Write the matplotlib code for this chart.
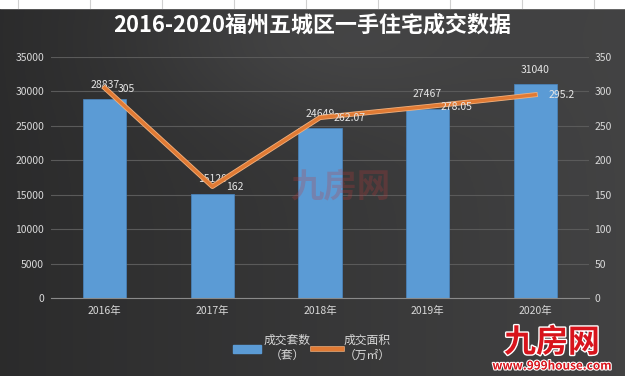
import matplotlib
matplotlib.use("Agg")
import matplotlib.pyplot as plt
import matplotlib.patheffects as pe
from matplotlib.lines import Line2D
from matplotlib.patches import Patch
import numpy as np

plt.rcParams['font.family'] = ['Noto Sans CJK SC', 'DejaVu Sans']

years = ['2016年', '2017年', '2018年', '2019年', '2020年']
units = [28837, 15120, 24649, 27467, 31040]
area = [305, 162, 262.07, 278.05, 295.2]
area_labels = ['305', '162', '262.07', '278.05', '295.2']
title = '2016-2020福州五城区一手住宅成交数据'

W, H = 625, 376
fig = plt.figure(figsize=(W / 100, H / 100), dpi=100)

# background gradient
bg = fig.add_axes([0, 0, 1, 1])
xg = np.linspace(0, 1, 300)
yg = np.linspace(0, 1, 200)
X, Y = np.meshgrid(xg, yg)
val = 0.17 + 0.09 * X + 0.05 * np.exp(-((X - 0.5) ** 2) / 0.08 - ((Y - 0.1) ** 2) / 0.05)
img = np.dstack([val, val, val * 1.01])
img = np.clip(img, 0, 1)
bg.imshow(img, extent=[0, W, H, 0], aspect='auto')
bg.set_xlim(0, W)
bg.set_ylim(H, 0)
bg.axis('off')
# white spreadsheet strip at top
bg.fill_between([0, W], 0, 8, color='white', zorder=2)
for xv in np.arange(18, W, 72):
    bg.plot([xv, xv], [0, 8], color='#d0d0d0', lw=0.8, zorder=3)

fig.text(0.5, 1 - 25 / H, title, color='white', fontsize=15.8, fontweight='bold',
         ha='center', va='center')

ax = fig.add_axes([51 / W, (H - 298) / H, (589 - 51) / W, (298 - 57) / H])
ax.patch.set_alpha(0)
x = np.arange(len(years))
bars = ax.bar(x, units, width=0.4, color='#5b9bd5', edgecolor='#4a86c0', linewidth=0.5, zorder=2)
ax.set_xlim(-0.5, len(years) - 0.5)
ax.set_ylim(0, 35000)
ax.set_yticks(np.arange(0, 35001, 5000))
ax.grid(axis='y', color='#5a5a5a', lw=0.8, zorder=0)
for s in ['top', 'right', 'left']:
    ax.spines[s].set_visible(False)
ax.spines['bottom'].set_color('#8a8a8a')
ax.set_xticks(x)
ax.set_xticklabels(years)
ax.tick_params(axis='both', colors='#d9d9d9', labelsize=7.5, length=0)
ax.tick_params(axis='x', pad=6)
ax.tick_params(axis='y', pad=5)

for xi, v in zip(x, units):
    ax.annotate(str(v), (xi, v), xytext=(0, 7), textcoords='offset points',
                ha='center', va='bottom', color='#e6e6e6', fontsize=7.5, zorder=5)

ax2 = ax.twinx()
ax2.set_ylim(0, 350)
ax2.set_yticks(np.arange(0, 351, 50))
for s in ['top', 'right', 'left', 'bottom']:
    ax2.spines[s].set_visible(False)
ax2.tick_params(axis='y', colors='#d9d9d9', labelsize=7.5, length=0, pad=4)
ax2.plot(x, area, color='#e07a34', lw=2.4, zorder=4,
         path_effects=[pe.Stroke(linewidth=3.6, foreground='#f2b07c'), pe.Normal()])
for xi, v, lab in zip(x, area, area_labels):
    ax2.annotate(lab, (xi, v), xytext=(9.5, -0.5), textcoords='offset points',
                 ha='left', va='center', color='#e6e6e6', fontsize=7.5, zorder=5)

# watermark in middle
fig.text(340 / W, 1 - 187 / H, '九房网', color='#c0393b', alpha=0.25, fontsize=24,
         ha='center', va='center', fontweight='bold')

# legend
handles = [Patch(facecolor='#5b9bd5', edgecolor='#5b9bd5'),
           Line2D([0], [0], color='#e07a34', lw=3,
                  path_effects=[pe.Stroke(linewidth=4, foreground='#f2b07c'), pe.Normal()])]
leg = fig.legend(handles, ['成交套数\n（套）', '成交面积\n（万㎡）'], ncol=2,
                 loc='center', bbox_to_anchor=(312 / W, 1 - 348 / H), frameon=False,
                 fontsize=8.5, labelcolor='#d9d9d9', handlelength=2.4, handleheight=0.6,
                 handletextpad=0.2, columnspacing=0.2)
for t in leg.get_texts():
    t.set_multialignment('center')

# bottom-right logo
fig.text(552 / W, 1 - 343 / H, '九房网', color='#d8141c', fontsize=23, fontweight='bold',
         ha='center', va='center',
         path_effects=[pe.Stroke(linewidth=2, foreground='white'), pe.Normal()])
fig.text(552 / W, 1 - 366 / H, 'www.999house.com', color='#d8141c', fontsize=8.5,
         fontweight='bold', ha='center', va='center',
         path_effects=[pe.Stroke(linewidth=1.5, foreground='white'), pe.Normal()])

fig.savefig('out.png', dpi=100)
